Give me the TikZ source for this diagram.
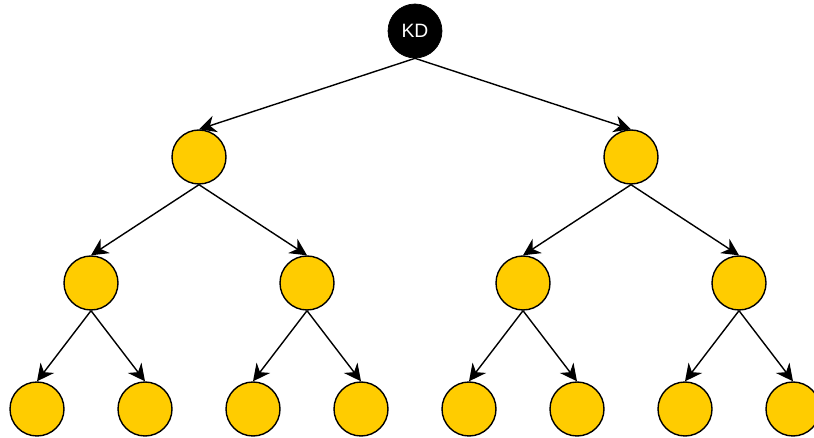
\documentclass[tikz,border=0pt]{standalone}
\usepackage{fontspec}
\setmainfont{Liberation Sans}
\usetikzlibrary{arrows.meta}
\definecolor{kdyellow}{HTML}{FFCC00}
\begin{document}
\begin{tikzpicture}[
  x=0.02cm, y=-0.02cm,
  root/.style={circle, minimum size=1.08cm, inner sep=0pt, fill=black, draw=black,
               text=white, font=\fontsize{11}{13}\selectfont},
  leaf/.style={circle, minimum size=1.08cm, inner sep=0pt, fill=kdyellow, draw=black, line width=0.8pt},
  edge/.style={-{Stealth[length=3.4mm, width=3.4mm, inset=1.1mm]}, line width=0.8pt}
]
\useasboundingbox (0,0) rectangle (814,438);

% Root
\node[root] (kd) at (415,31) {KD};

% Level 1
\node[leaf] (l) at (199,157) {};
\node[leaf] (r) at (631,157) {};

% Level 2
\node[leaf] (ll) at (91,283)  {};
\node[leaf] (lr) at (307,283) {};
\node[leaf] (rl) at (523,283) {};
\node[leaf] (rr) at (739,283) {};

% Level 3
\node[leaf] (lll) at (37,409)  {};
\node[leaf] (llr) at (145,409) {};
\node[leaf] (lrl) at (253,409) {};
\node[leaf] (lrr) at (361,409) {};
\node[leaf] (rll) at (469,409) {};
\node[leaf] (rlr) at (577,409) {};
\node[leaf] (rrl) at (685,409) {};
\node[leaf] (rrr) at (793,409) {};

% Root -> level 1
\draw[edge] (kd.south) -- (l.north);
\draw[edge] (kd.south) -- (r.north);

% Level 1 -> level 2
\draw[edge] (l.south) -- (ll.north);
\draw[edge] (l.south) -- (lr.north);
\draw[edge] (r.south) -- (rl.north);
\draw[edge] (r.south) -- (rr.north);

% Level 2 -> level 3
\draw[edge] (ll.south) -- (lll.north);
\draw[edge] (ll.south) -- (llr.north);
\draw[edge] (lr.south) -- (lrl.north);
\draw[edge] (lr.south) -- (lrr.north);
\draw[edge] (rl.south) -- (rll.north);
\draw[edge] (rl.south) -- (rlr.north);
\draw[edge] (rr.south) -- (rrl.north);
\draw[edge] (rr.south) -- (rrr.north);
\end{tikzpicture}
\end{document}
